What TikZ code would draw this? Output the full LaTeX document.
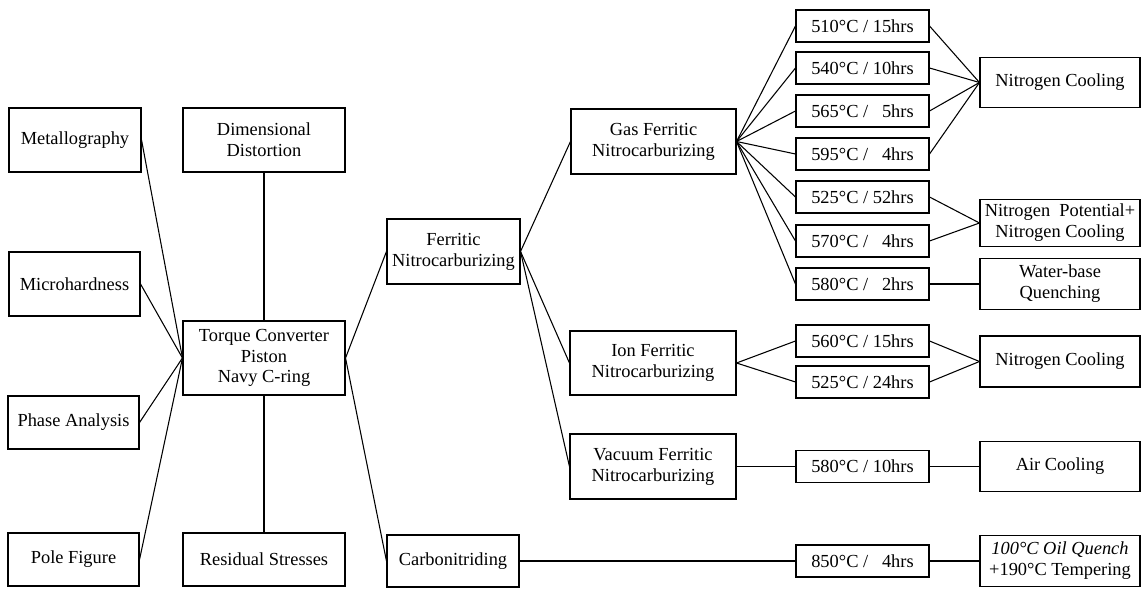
\documentclass[tikz,border=0pt]{standalone}
\usepackage{fontspec}
\setmainfont{Liberation Serif}
\usetikzlibrary{positioning}

\tikzset{
  box/.style 2 args={draw, line width=0.8pt, align=center, inner sep=0pt,
    minimum width=#1*0.75pt, minimum height=#2*0.75pt},
  tbox/.style={box={133}{32}},
  rbox/.style={box={160}{#1}},
  link/.style={line width=0.8pt}
}
\newcommand{\dg}{\hphantom{1}}

\begin{document}
\begin{tikzpicture}[x=0.75pt, y=-0.75pt,
  font=\fontsize{13.8pt}{15.6pt}\selectfont]
\useasboundingbox (0,0) rectangle (1146,591);

% ---- Evaluation methods (left) ----
\node[box={132}{64}] (metal) at (75,140)    {Metallography};
\node[box={131}{64}] (micro) at (74.5,284)  {Microhardness};
\node[box={131}{53}] (phase) at (73.5,422.5){Phase Analysis};
\node[box={131}{53}] (pole)  at (73.5,559.5){Pole Figure};

% ---- Parts and measurements ----
\node[box={162}{64}] (dimen)  at (264,140)   {Dimensional\\Distortion};
\node[box={162}{74}] (torque) at (264,358)   {Torque Converter\\Piston\\Navy C-ring};
\node[box={162}{53}] (resid)  at (264,559.5) {Residual Stresses};

% ---- Treatments ----
\node[box={133}{65}] (ferr)  at (453.5,251.5) {Ferritic\\Nitrocarburizing};
\node[box={132}{52}] (carbo) at (453,561)     {Carbonitriding};

\node[box={165}{65}] (gas) at (653.5,141.5) {Gas Ferritic\\Nitrocarburizing};
\node[box={166}{64}] (ion) at (653,363)     {Ion Ferritic\\Nitrocarburizing};
\node[box={166}{65}] (vac) at (653,466.5)   {Vacuum Ferritic\\Nitrocarburizing};

% ---- Temperature / time ----
\node[tbox] (g1) at (862.5,26)  {510°C / 15hrs};
\node[tbox] (g2) at (862.5,68)  {540°C / 10hrs};
\node[tbox] (g3) at (862.5,111) {565°C / \dg5hrs};
\node[tbox] (g4) at (862.5,154) {595°C / \dg4hrs};
\node[tbox] (g5) at (862.5,197) {525°C / 52hrs};
\node[tbox] (g6) at (862.5,241) {570°C / \dg4hrs};
\node[tbox] (g7) at (862.5,284) {580°C / \dg2hrs};

\node[tbox] (i1) at (862.5,341) {560°C / 15hrs};
\node[tbox] (i2) at (862.5,382) {525°C / 24hrs};

\node[tbox] (v1) at (862.5,466.5) {580°C / 10hrs};
\node[tbox] (c1) at (862.5,561)   {850°C / \dg4hrs};

% ---- Cooling ----
\node[rbox=50] (nc1) at (1060,82.5)  {Nitrogen Cooling};
\node[rbox=47] (np)  at (1060,223)   {Nitrogen\ \ Potential+\\Nitrogen Cooling};
\node[rbox=51] (wq)  at (1060,284)   {Water-base\\Quenching};
\node[rbox=51] (nc2) at (1060,361.5) {Nitrogen Cooling};
\node[rbox=50] (air) at (1060,466.5) {Air Cooling};
\node[rbox=51] (oil) at (1060,561)   {\textit{100°C Oil Quench}\\+190°C Tempering};

% ---- Connectors ----
\foreach \n in {metal,micro,phase,pole}
  \draw[link] (\n.east) -- (torque.west);
\draw[link] (dimen) -- (torque);
\draw[link] (resid) -- (torque);
\draw[link] (torque.east) -- (ferr.west);
\draw[link] (torque.east) -- (carbo.west);

\foreach \n in {gas,ion,vac}
  \draw[link] (ferr.east) -- (\n.west);

\foreach \n in {g1,g2,g3,g4,g5,g6,g7}
  \draw[link] (gas.east) -- (\n.west);
\foreach \n in {g1,g2,g3,g4}
  \draw[link] (\n.east) -- (nc1.west);
\foreach \n in {g5,g6}
  \draw[link] (\n.east) -- (np.west);
\draw[link] (g7.east) -- (wq.west);

\foreach \n in {i1,i2} {
  \draw[link] (ion.east) -- (\n.west);
  \draw[link] (\n.east) -- (nc2.west);
}

\draw[link] (vac) -- (v1) -- (air);
\draw[link] (carbo) -- (c1) -- (oil);

\end{tikzpicture}
\end{document}
